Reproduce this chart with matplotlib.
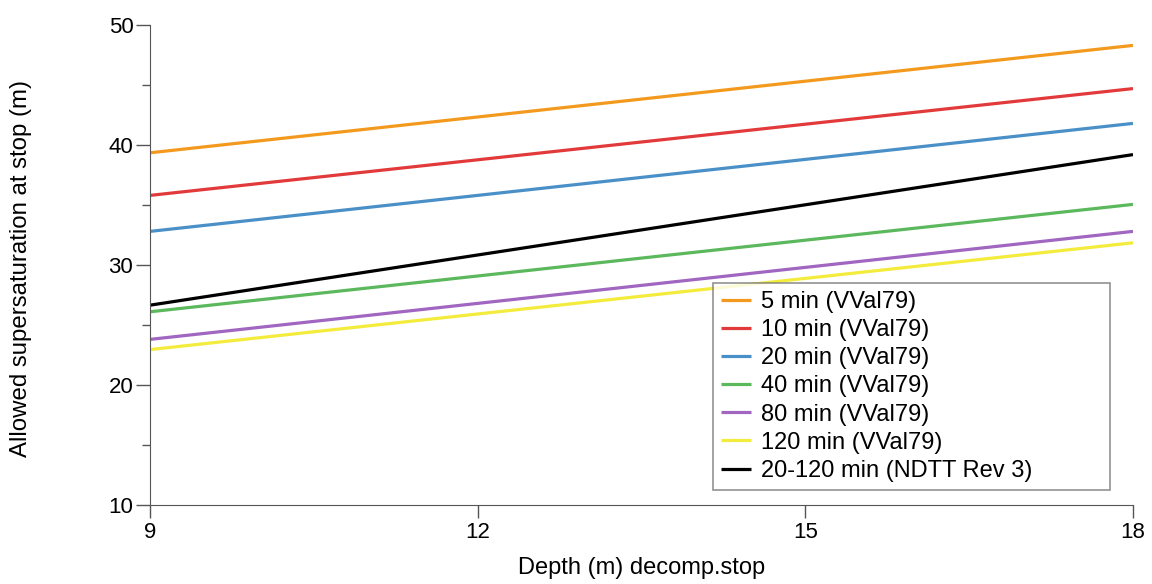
import numpy as np
import matplotlib.pyplot as plt
from matplotlib.ticker import MultipleLocator

plt.rcParams['font.family'] = ['Liberation Sans', 'DejaVu Sans']

# %% data (start at 9 m, end at 18 m)
depth = [9, 18]
labels = ['5 min (VVal79)', '10 min (VVal79)', '20 min (VVal79)',
          '40 min (VVal79)', '80 min (VVal79)', '120 min (VVal79)',
          '20-120 min (NDTT Rev 3)']
m5 = [39.35, 48.3]
m10 = [35.8, 44.7]
m20 = [32.8, 41.8]
m40 = [26.1, 35.05]
m80 = [23.8, 32.8]
m120 = [22.95, 31.85]
ndtt = [26.65, 39.2]
colors = ['#f39a1e', '#e23a3a', '#4a90c8', '#5cb85c', '#a066c0', '#f3ec3c', '#000000']

series = [m5, m10, m20, m40, m80, m120, ndtt]

fig = plt.figure(figsize=(11.52, 5.84), dpi=100)
ax = fig.add_axes([0.1302, 0.1353, 0.8533, 0.8219])

for y, c, lab in zip(series, colors, labels):
    ax.plot(depth, y, '-', color=c, lw=2.3, label=lab, solid_capstyle='butt')

ax.set_xlim(9, 18)
ax.set_ylim(10, 50)
ax.xaxis.set_major_locator(MultipleLocator(3))
ax.yaxis.set_major_locator(MultipleLocator(10))
ax.yaxis.set_minor_locator(MultipleLocator(5))

ax.set_xlabel('Depth (m) decomp.stop', fontsize=17, labelpad=10)
ax.set_ylabel('Allowed supersaturation at stop (m)', fontsize=17.3)
ax.yaxis.set_label_coords(-0.12, 0.493)

ax.tick_params(which='both', direction='out', color='#555555', width=1)
ax.tick_params(which='major', length=10, labelsize=16)
ax.tick_params(which='minor', length=6)
ax.tick_params(axis='x', length=9, pad=3)
ax.tick_params(axis='y', pad=2)

# =============================================================================
# spines
# =============================================================================
ax.spines['top'].set_visible(False)
ax.spines['right'].set_visible(False)
ax.spines['left'].set_color('#555555')
ax.spines['bottom'].set_color('#555555')

leg = ax.legend(loc='lower left', bbox_to_anchor=(0.5727, 0.031, 0.4039, 0.4), mode='expand',
                fontsize=17, frameon=True, fancybox=False, handlelength=1.25,
                handletextpad=0.45, labelspacing=0.26, borderpad=0.35, borderaxespad=0)
leg.get_frame().set_edgecolor('#777777')
leg.get_frame().set_linewidth(1.2)

plt.savefig('out.png', dpi=100)
